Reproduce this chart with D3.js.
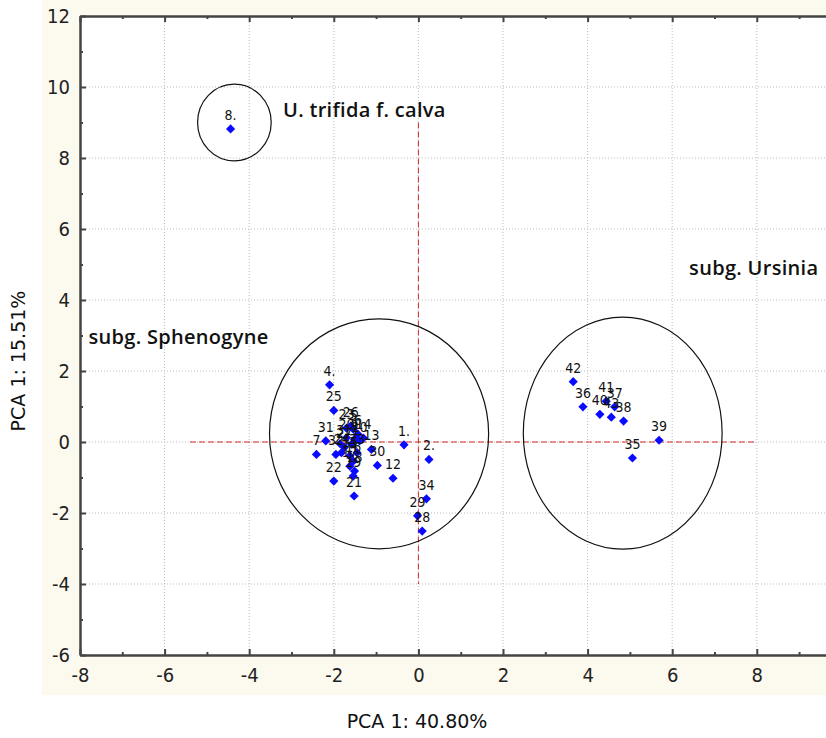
<!DOCTYPE html>
<head>
  <meta charset="utf-8">
  <script src="https://d3js.org/d3.v7.min.js"></script>
  <style>
    body { margin:0; padding:0; background:#fff; }
    svg text { font-family: "DejaVu Sans", sans-serif; }
  </style>
</head>
<body>
<svg id="chart" width="826" height="738"></svg>
<script>
  // specimen labels and PCA scores
  var labels = ["1.","2.","3","4.","5","6","7","8.","9","10","11","12","13","14","15","16","17",
                "18","19","20","21","22","23","24","25","26","27","28","29","30","31","32","33","34",
                "35","36","37","38","39","40","41","42","43"];
  var pc1 = [-0.34, 0.25,-1.85,-2.10,-1.54,-1.43,-2.41,-4.44,-1.51,-1.39,-1.58,-0.60,-1.11,-1.30,-1.62,-1.54,-1.62,
             -1.51,-1.54,-1.70,-1.52,-2.00,-1.70,-1.82,-2.00,-1.60,-1.75, 0.09,-0.02,-0.97,-2.19,-1.95,-1.45, 0.19,
              5.06, 3.89, 4.64, 4.85, 5.69, 4.29, 4.44, 3.66, 4.56];
  var pc2 = [-0.08,-0.49,-0.05, 1.61, 0.36, 0.22,-0.35, 8.82, 0.08, 0.03,-0.06,-1.02,-0.21, 0.11,-0.39,-0.54,-0.68,
             -0.82,-0.96, 0.12,-1.52,-1.10, 0.39,-0.30, 0.89, 0.45,-0.15,-2.51,-2.08,-0.66, 0.03,-0.35,-0.30,-1.60,
             -0.45, 0.99, 0.99, 0.59, 0.05, 0.78, 1.15, 1.70, 0.70];

  // group outlines (centre x, centre y, radius x, radius y in axis units)
  var groupNames = ["U. trifida f. calva", "subg. Sphenogyne", "subg. Ursinia"];
  var groupCx = [-4.35, -0.93, 4.83];
  var groupCy = [9.0, 0.23, 0.25];
  var groupRx = [0.87, 2.59, 2.35];
  var groupRy = [1.08, 3.24, 3.27];
  var groupLabelX = [-3.2, -7.8, 6.4];
  var groupLabelY = [9.15, 2.75, 4.7];

  var xTicks = [-8,-6,-4,-2,0,2,4,6,8];
  var yTicks = [-6,-4,-2,0,2,4,6,8,10,12];

  var svg = d3.select("#chart");
  var x = d3.scaleLinear().domain([-8, 10]).range([80, 841.4]);
  var y = d3.scaleLinear().domain([-6, 12]).range([655, 16]);

  // cream panel behind the plot
  svg.append("rect").attr("x", 42).attr("y", 0).attr("width", 784).attr("height", 695).attr("fill", "#fcf9ee");
  svg.append("rect").attr("x", 80).attr("y", 16).attr("width", 760).attr("height", 639).attr("fill", "#fff");

  // dotted grid
  svg.append("g").selectAll("line").data(xTicks.filter(function(d){ return d > -8; })).join("line")
    .attr("x1", x).attr("x2", x).attr("y1", y(12)).attr("y2", y(-6))
    .attr("stroke", "#bdbdbd").attr("stroke-dasharray", "1,2");
  svg.append("g").selectAll("line").data(yTicks.filter(function(d){ return d > -6 && d < 12; })).join("line")
    .attr("x1", x(-8)).attr("x2", 826).attr("y1", y).attr("y2", y)
    .attr("stroke", "#bdbdbd").attr("stroke-dasharray", "1,2");

  // red dashed cross through the origin
  svg.append("line").attr("x1", x(-5.4)).attr("x2", x(8)).attr("y1", y(0)).attr("y2", y(0))
    .attr("stroke", "#d42a2a").attr("stroke-dasharray", "6,3");
  svg.append("line").attr("x1", x(0)).attr("x2", x(0)).attr("y1", y(9)).attr("y2", y(-4))
    .attr("stroke", "#d42a2a").attr("stroke-dasharray", "6,3");

  // axes, ticks pointing inward
  function styleAxis(g) {
    g.select(".domain").attr("stroke", "#444").attr("stroke-width", 2);
    g.selectAll(".tick line").attr("stroke", "#444").attr("stroke-width", 2);
    g.selectAll("text").attr("fill", "#222").style("font-family", "'Liberation Sans Narrow', 'DejaVu Sans Condensed', sans-serif")
      .style("font-size", "20px");
  }
  var plain = function(d){ return String(d); };
  var odd = d3.range(-7, 10, 2);
  var oddY = d3.range(-5, 12, 2);

  svg.append("g").attr("transform", "translate(0,655)")
    .call(d3.axisBottom(x).tickValues(xTicks).tickSize(-6).tickSizeOuter(0).tickPadding(13).tickFormat(plain))
    .call(styleAxis);
  svg.append("g").attr("transform", "translate(0,655)")
    .call(d3.axisBottom(x).tickValues(odd).tickSize(-3).tickSizeOuter(0).tickFormat(""))
    .call(styleAxis);
  svg.append("g").attr("transform", "translate(0,16)")
    .call(d3.axisTop(x).tickValues(xTicks).tickSize(-6).tickSizeOuter(0).tickFormat(""))
    .call(styleAxis);
  svg.append("g").attr("transform", "translate(0,16)")
    .call(d3.axisTop(x).tickValues(odd).tickSize(-3).tickSizeOuter(0).tickFormat(""))
    .call(styleAxis);
  svg.append("g").attr("transform", "translate(80,0)")
    .call(d3.axisLeft(y).tickValues(yTicks).tickSize(-6).tickSizeOuter(0).tickPadding(10).tickFormat(plain))
    .call(styleAxis);
  svg.append("g").attr("transform", "translate(80,0)")
    .call(d3.axisLeft(y).tickValues(oddY).tickSize(-3).tickSizeOuter(0).tickFormat(""))
    .call(styleAxis);

  // group outlines
  svg.append("g").selectAll("ellipse").data(groupNames).join("ellipse")
    .attr("cx", function(d, i){ return x(groupCx[i]); })
    .attr("cy", function(d, i){ return y(groupCy[i]); })
    .attr("rx", function(d, i){ return x(groupRx[i]) - x(0); })
    .attr("ry", function(d, i){ return y(0) - y(groupRy[i]); })
    .attr("fill", "none").attr("stroke", "#111").attr("stroke-width", 1.2);

  svg.append("g").selectAll("text").data(groupNames).join("text")
    .attr("x", function(d, i){ return x(groupLabelX[i]); })
    .attr("y", function(d, i){ return y(groupLabelY[i]); })
    .attr("font-size", 20).attr("font-weight", 600).attr("fill", "#111")
    .attr("letter-spacing", 0.3)
    .style("font-family", "'Open Sans', sans-serif")
    .text(function(d){ return d; });

  // points
  var idx = d3.range(labels.length);
  svg.append("g").selectAll("path").data(idx).join("path")
    .attr("d", d3.symbol().type(d3.symbolSquare).size(42))
    .attr("transform", function(i){ return "translate(" + x(pc1[i]) + "," + y(pc2[i]) + ") rotate(45)"; })
    .attr("fill", "#0a0aff");

  svg.append("g").selectAll("text").data(idx).join("text")
    .attr("x", function(i){ return x(pc1[i]); })
    .attr("y", function(i){ return y(pc2[i]) - 9; })
    .attr("text-anchor", "middle").attr("font-size", 14).attr("fill", "#111")
    .style("font-family", "'DejaVu Sans Condensed', 'DejaVu Sans', sans-serif")
    .text(function(i){ return labels[i]; });

  // axis titles
  svg.append("text").attr("x", 417).attr("y", 728).attr("text-anchor", "middle")
    .attr("font-size", 19).attr("fill", "#111").text("PCA 1: 40.80%");
  svg.append("text").attr("transform", "translate(25,361) rotate(-90)").attr("text-anchor", "middle")
    .attr("font-size", 19).attr("fill", "#111").text("PCA 1: 15.51%");
</script>
</body>
